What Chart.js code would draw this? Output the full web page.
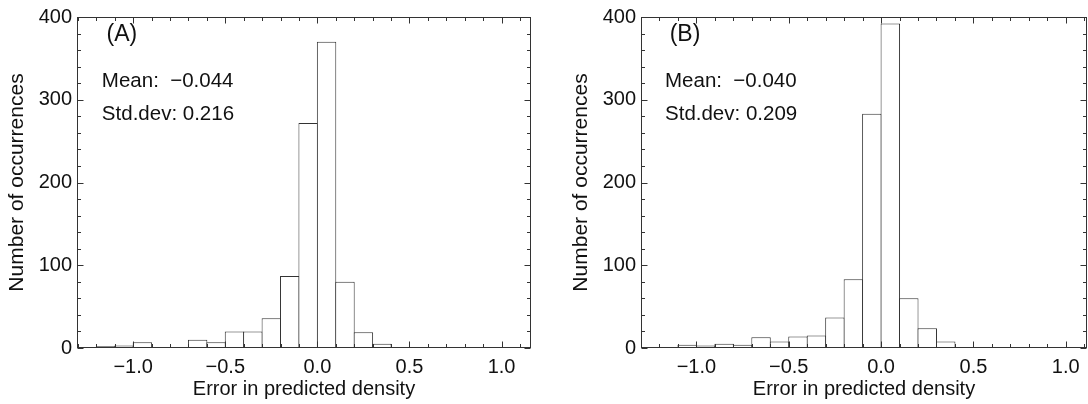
<!DOCTYPE html>
<html>
<head>
<meta charset="utf-8">
<script src="https://cdn.jsdelivr.net/npm/chart.js@4.4.1/dist/chart.umd.min.js"></script>
<style>
  html, body { margin: 0; padding: 0; background: #fff; }
  #wrap { position: relative; width: 1088px; height: 404px; overflow: hidden; }
  canvas { position: absolute; top: 0; }
</style>
</head>
<body>
<div id="wrap">
  <canvas id="chartA" width="564" height="404" style="left:0px"></canvas>
  <canvas id="chartB" width="524" height="404" style="left:564px"></canvas>
</div>
<script>
// ======================== Data ========================
// left edges of the histogram bins (width 0.1)
const binEdges = [-1.2, -1.1, -1.0, -0.9, -0.8, -0.7, -0.6, -0.5, -0.4, -0.3, -0.2,
                  -0.1, 0.0, 0.1, 0.2, 0.3, 0.4, 0.5, 0.6, 0.7, 0.8, 0.9];
const binWidth = 0.1;
const countsA = [2, 3, 7, 1, 1, 10, 7, 20, 20, 36, 87, 272, 370, 80, 19, 5, 0, 1, 1, 1, 1, 1];
const countsB = [0, 4, 3, 5, 4, 13, 8, 14, 15, 37, 83, 283, 392, 60, 24, 8, 1, 1, 0, 1, 1, 0];
const xTickLabels = [-1.0, -0.5, 0.0, 0.5, 1.0];
const yTickLabels = [0, 100, 200, 300, 400];
const statsA = { label: '(A)', mean: '\u22120.044', std: '0.216' };
const statsB = { label: '(B)', mean: '\u22120.040', std: '0.209' };

const FONT = '"Liberation Sans", Arial, Helvetica, sans-serif';
Chart.defaults.font.family = FONT;
Chart.defaults.color = '#111';

const fmt = v => (v < 0 ? '\u2212' : '') + Math.abs(v).toFixed(1);

// ======================== Frame + inward ticks ========================
const framePlugin = {
    id: 'frame',
    afterDatasetsDraw(chart) {
        const { ctx, chartArea: a, scales: { x, y } } = chart;
        const L = Math.round(a.left) + 0.5, R = Math.round(a.right) - 0.5;
        const T = Math.round(a.top) + 0.5, B = Math.round(a.bottom) - 0.5;
        ctx.save();
        ctx.strokeStyle = '#333';
        ctx.lineWidth = 1;
        ctx.beginPath();
        for (let k = -14; k <= 13; k++) {
            const v = k / 10;
            if (v < x.min || v > x.max) continue;
            const px = Math.round(x.getPixelForValue(v)) + 0.5;
            const len = k % 5 === 0 ? 6 : 3.5;
            ctx.moveTo(px, B); ctx.lineTo(px, B - len);
            ctx.moveTo(px, T); ctx.lineTo(px, T + len);
        }
        for (let k = 0; k <= 20; k++) {
            const v = k * 20;
            const py = Math.round(y.getPixelForValue(v)) + 0.5;
            const len = v % 100 === 0 ? 6 : 3.5;
            ctx.moveTo(L, py); ctx.lineTo(L + len, py);
            ctx.moveTo(R, py); ctx.lineTo(R - len, py);
        }
        ctx.stroke();
        ctx.strokeRect(L, T, R - L, B - T);
        ctx.restore();
    }
};

// ======================== Text inside the panel ========================
const notesPlugin = {
    id: 'notes',
    afterDraw(chart, args, opts) {
        const { ctx, scales: { x, y } } = chart;
        ctx.save();
        ctx.fillStyle = '#111';
        ctx.textBaseline = 'middle';
        ctx.textAlign = 'left';
        (opts.items || []).forEach(it => {
            ctx.font = it.size + 'px ' + FONT;
            ctx.fillText(it.text, x.getPixelForValue(it.x), y.getPixelForValue(it.y));
        });
        ctx.restore();
    }
};

function makeHistogram(id, counts, stats, xMin, xMax, padRight) {
    let ctx = document.getElementById(id).getContext('2d');
    return new Chart(ctx, {
        type: 'bar',
        data: {
            datasets: [{
                data: binEdges.map((e, i) => ({ x: e + binWidth / 2, y: counts[i] })),
                backgroundColor: '#fff',
                borderColor: '#333',
                borderWidth: { left: 1, right: 1, top: 1, bottom: 0 },
                borderSkipped: false,
                // a touch wider than the bin so neighbouring edges share one line
                barPercentage: 1.054,
                categoryPercentage: 1
            }]
        },
        options: {
            responsive: false,
            animation: false,
            devicePixelRatio: 1,
            layout: { padding: { left: 0, right: padRight, top: 17, bottom: 0 } },
            plugins: {
                legend: { display: false },
                tooltip: { enabled: false },
                notes: {
                    items: [
                        { text: stats.label, x: -1.145, y: 379, size: 23 },
                        { text: 'Mean:  ' + stats.mean, x: -1.17, y: 322, size: 20.5 },
                        { text: 'Std.dev: ' + stats.std, x: -1.17, y: 282, size: 20.5 }
                    ]
                }
            },
            scales: {
                x: {
                    type: 'linear',
                    min: xMin,
                    max: xMax,
                    offset: false,
                    grid: { display: false, drawTicks: false },
                    border: { display: false },
                    afterBuildTicks: s => { s.ticks = xTickLabels.map(v => ({ value: v })); },
                    afterFit: s => { s.height = 56; },
                    ticks: {
                        autoSkip: false,
                        maxRotation: 0,
                        padding: 7,
                        font: { size: 20 },
                        callback: v => fmt(v)
                    },
                    title: {
                        display: true,
                        text: 'Error in predicted density',
                        font: { size: 20 },
                        padding: { top: 0, bottom: 3 }
                    }
                },
                y: {
                    min: 0,
                    max: 400,
                    grid: { display: false, drawTicks: false },
                    border: { display: false },
                    afterBuildTicks: s => { s.ticks = yTickLabels.map(v => ({ value: v })); },
                    afterFit: s => { s.width = 77; },
                    ticks: {
                        padding: 5,
                        font: { size: 20 },
                        callback: v => String(v)
                    },
                    title: {
                        display: true,
                        text: 'Number of occurrences',
                        font: { size: 21 },
                        padding: { top: 5, bottom: 0 }
                    }
                }
            }
        },
        plugins: [framePlugin, notesPlugin]
    });
}

makeHistogram('chartA', countsA, statsA, -1.305, 1.16, 33);
makeHistogram('chartB', countsB, statsB, -1.3, 1.115, 1);
</script>
</body>
</html>
